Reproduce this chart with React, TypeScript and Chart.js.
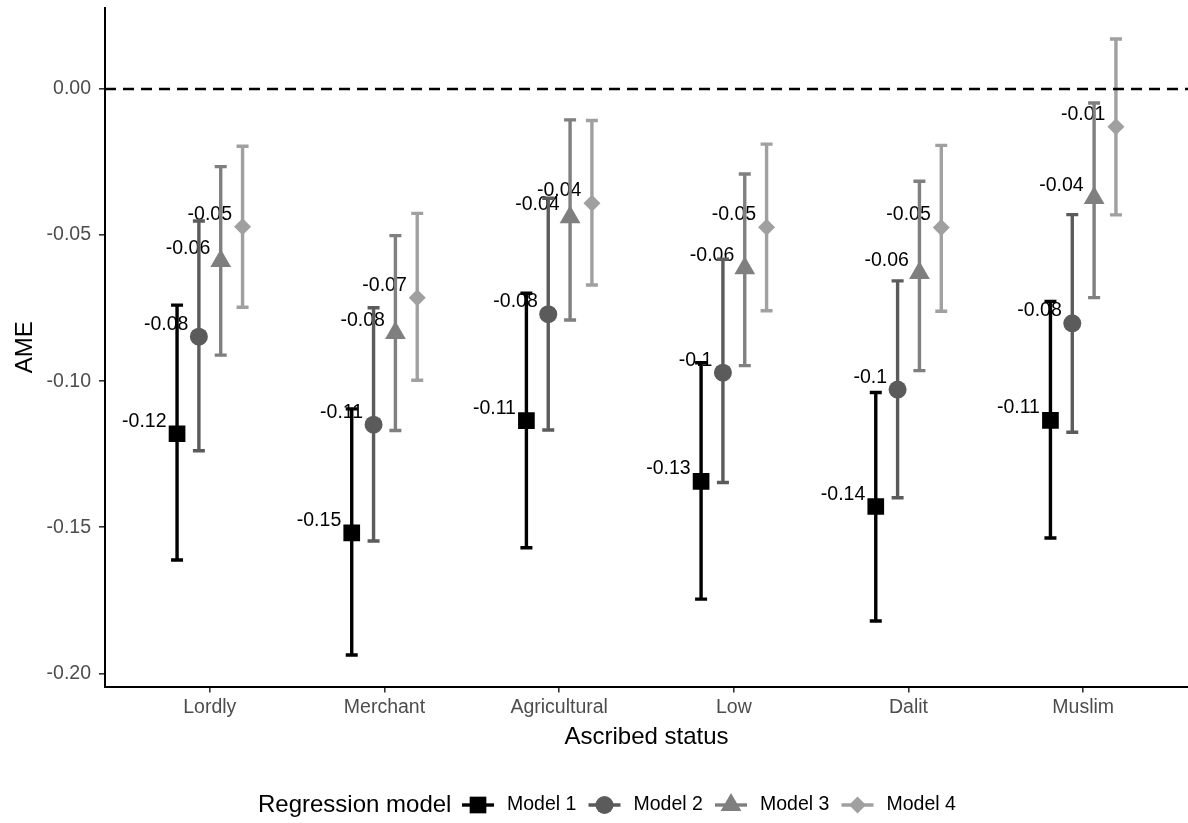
import React, { useEffect, useRef } from "react";
import { Chart, registerables } from "chart.js";

Chart.register(...registerables);

// ---------- data ----------
const CATEGORIES = ["Lordly", "Merchant", "Agricultural", "Low", "Dalit", "Muslim"];
const MODELS = ["Model 1", "Model 2", "Model 3", "Model 4"];

const M1_EST = [-0.118, -0.1519, -0.1135, -0.1343, -0.1429, -0.1134];
const M1_LO = [-0.1612, -0.1937, -0.157, -0.1746, -0.1821, -0.1537];
const M1_HI = [-0.074, -0.1095, -0.0699, -0.0937, -0.1039, -0.0727];

const M2_EST = [-0.0848, -0.1149, -0.0771, -0.0971, -0.1029, -0.0802];
const M2_LO = [-0.1238, -0.1547, -0.1167, -0.1347, -0.1399, -0.1175];
const M2_HI = [-0.0452, -0.0749, -0.0374, -0.0583, -0.0657, -0.043];

const M3_EST = [-0.0589, -0.0835, -0.0439, -0.0614, -0.063, -0.0373];
const M3_LO = [-0.0911, -0.1169, -0.0791, -0.0947, -0.0964, -0.0714];
const M3_HI = [-0.0266, -0.0502, -0.0106, -0.0291, -0.0316, -0.0048];

const M4_EST = [-0.0472, -0.0715, -0.0391, -0.0473, -0.0474, -0.0129];
const M4_LO = [-0.0747, -0.0997, -0.0671, -0.0759, -0.0761, -0.0431];
const M4_HI = [-0.0196, -0.0426, -0.0108, -0.0189, -0.0193, 0.0171];

const Y_TICKS = [-0.2, -0.15, -0.1, -0.05, 0];
const Y_TICK_LABELS = ["-0.20", "-0.15", "-0.10", "-0.05", "0.00"];
const REF_LINE = 0;

const X_TITLE = "Ascribed status";
const Y_TITLE = "AME";
const LEGEND_TITLE = "Regression model";

// ---------- styles ----------
const COLORS = ["#000000", "#5b5b5b", "#7f7f7f", "#a0a0a0"];
const SHAPES = ["rect", "circle", "triangle", "rectRot"];
const RADII = [11.8, 9, 12, 8.5];
const DODGE = [-0.1875, -0.0625, 0.0625, 0.1875];
const X_MIN = 0.4;
const X_MAX = 6.6;
const Y_MIN = -0.2045;
const Y_MAX = 0.0277;
const FONT = '"Liberation Sans", Arial, Helvetica, sans-serif';

const SERIES = [
  { est: M1_EST, lo: M1_LO, hi: M1_HI },
  { est: M2_EST, lo: M2_LO, hi: M2_HI },
  { est: M3_EST, lo: M3_LO, hi: M3_HI },
  { est: M4_EST, lo: M4_LO, hi: M4_HI },
];

const fmt = (v: number) => String(Math.round(v * 100) / 100);

function drawShape(ctx: CanvasRenderingContext2D, shape: string, x: number, y: number, r: number) {
  ctx.beginPath();
  if (shape === "rect") {
    const s = Math.SQRT1_2 * r;
    ctx.rect(x - s, y - s, 2 * s, 2 * s);
  } else if (shape === "circle") {
    ctx.arc(x, y, r, 0, Math.PI * 2);
  } else if (shape === "triangle") {
    for (let i = 0; i < 3; i++) {
      const a = (i * 2 * Math.PI) / 3;
      const px = x + Math.sin(a) * r;
      const py = y - Math.cos(a) * r;
      if (i === 0) ctx.moveTo(px, py);
      else ctx.lineTo(px, py);
    }
    ctx.closePath();
  } else {
    ctx.moveTo(x - r, y);
    ctx.lineTo(x, y - r);
    ctx.lineTo(x + r, y);
    ctx.lineTo(x, y + r);
    ctx.closePath();
  }
  ctx.fill();
}

const barsPlugin = {
  id: "barsAndLabels",
  beforeDatasetsDraw(chart: any) {
    const { ctx } = chart;
    const xs = chart.scales.x;
    const ys = chart.scales.y;
    ctx.save();
    // value labels
    ctx.font = `19.5px ${FONT}`;
    ctx.fillStyle = "#000";
    ctx.textAlign = "right";
    ctx.textBaseline = "alphabetic";
    SERIES.forEach((s, k) => {
      s.est.forEach((v, i) => {
        const px = xs.getPixelForValue(i + 1 + DODGE[k]);
        const py = ys.getPixelForValue(v);
        ctx.fillText(fmt(v), px - 10.5, py - 7);
      });
    });
    // error bars
    ctx.lineWidth = 3.4;
    ctx.lineCap = "butt";
    SERIES.forEach((s, k) => {
      ctx.strokeStyle = COLORS[k];
      s.est.forEach((_, i) => {
        const px = xs.getPixelForValue(i + 1 + DODGE[k]);
        const pl = ys.getPixelForValue(s.lo[i]);
        const ph = ys.getPixelForValue(s.hi[i]);
        ctx.beginPath();
        ctx.moveTo(px, pl);
        ctx.lineTo(px, ph);
        ctx.moveTo(px - 6, pl);
        ctx.lineTo(px + 6, pl);
        ctx.moveTo(px - 6, ph);
        ctx.lineTo(px + 6, ph);
        ctx.stroke();
      });
    });
    ctx.restore();
  },
  afterDraw(chart: any) {
    const { ctx, chartArea } = chart;
    ctx.save();
    ctx.fillStyle = "#000";
    // axis titles
    ctx.font = `24px ${FONT}`;
    ctx.textAlign = "center";
    ctx.textBaseline = "middle";
    ctx.fillText(X_TITLE, (chartArea.left + chartArea.right) / 2, 737);
    ctx.save();
    ctx.translate(25, (chartArea.top + chartArea.bottom) / 2);
    ctx.rotate(-Math.PI / 2);
    ctx.fillText(Y_TITLE, 0, 0);
    ctx.restore();
    // legend
    const ly = 805;
    ctx.textAlign = "left";
    ctx.font = `24px ${FONT}`;
    ctx.fillText(LEGEND_TITLE, 258, ly);
    ctx.font = `19.5px ${FONT}`;
    MODELS.forEach((m, k) => {
      const cx = 478 + k * 126.5;
      ctx.strokeStyle = COLORS[k];
      ctx.fillStyle = COLORS[k];
      ctx.lineWidth = 3.4;
      ctx.beginPath();
      ctx.moveTo(cx - 16, ly);
      ctx.lineTo(cx + 16, ly);
      ctx.stroke();
      drawShape(ctx, SHAPES[k], cx, ly, RADII[k]);
      ctx.fillStyle = "#000";
      ctx.fillText(m, cx + 29, ly);
    });
    ctx.restore();
  },
};

const zeroPad = (s: any) => {
  s.paddingTop = 0;
  s.paddingBottom = 0;
  s.paddingLeft = 0;
  s.paddingRight = 0;
};

export default function App() {
  const ref = useRef<HTMLCanvasElement | null>(null);
  useEffect(() => {
    document.body.style.margin = "0";
    const canvas = ref.current;
    if (!canvas) return;
    const pointSets = SERIES.map((s, k) => ({
      type: "scatter" as const,
      label: MODELS[k],
      data: s.est.map((v, i) => ({ x: i + 1 + DODGE[k], y: v })),
      pointStyle: SHAPES[k],
      pointRadius: RADII[k],
      backgroundColor: COLORS[k],
      borderColor: COLORS[k],
      borderWidth: 0,
      order: k,
    }));
    const chart = new Chart(canvas, {
      type: "scatter",
      data: {
        datasets: [
          ...pointSets,
          {
            type: "scatter" as const,
            label: "ref",
            data: [
              { x: X_MIN, y: REF_LINE },
              { x: X_MAX, y: REF_LINE },
            ],
            showLine: true,
            borderColor: "#000",
            borderWidth: 2.4,
            borderDash: [11, 7],
            pointRadius: 0,
            order: -1,
          } as any,
        ],
      },
      options: {
        animation: false,
        responsive: false,
        devicePixelRatio: 1,
        events: [],
        layout: { autoPadding: false, padding: { top: 8, left: 0, right: 0, bottom: 0 } },
        plugins: { legend: { display: false }, tooltip: { enabled: false } },
        scales: {
          x: {
            type: "linear",
            min: X_MIN,
            max: X_MAX,
            afterBuildTicks: (s: any) => {
              s.ticks = CATEGORIES.map((_, i) => ({ value: i + 1 }));
            },
            afterFit: (s: any) => {
              s.height = 136.5;
              zeroPad(s);
            },
            ticks: {
              callback: (_v: any, i: number) => CATEGORIES[i],
              color: "#4d4d4d",
              font: { family: FONT, size: 19.5 },
              padding: 3,
              maxRotation: 0,
              autoSkip: false,
            },
            grid: {
              display: true,
              drawOnChartArea: false,
              drawTicks: true,
              tickLength: 6,
              color: "#333",
              lineWidth: 1.6,
            },
            border: { display: true, color: "#000", width: 2 },
          },
          y: {
            type: "linear",
            min: Y_MIN,
            max: Y_MAX,
            afterBuildTicks: (s: any) => {
              s.ticks = Y_TICKS.map((v) => ({ value: v }));
            },
            afterFit: (s: any) => {
              s.width = 105;
              zeroPad(s);
            },
            ticks: {
              callback: (_v: any, i: number) => Y_TICK_LABELS[i],
              color: "#4d4d4d",
              font: { family: FONT, size: 19.5 },
              padding: 8,
              autoSkip: false,
            },
            grid: {
              display: true,
              drawOnChartArea: false,
              drawTicks: true,
              tickLength: 6,
              color: "#333",
              lineWidth: 1.6,
            },
            border: { display: true, color: "#000", width: 2 },
          },
        },
      },
      plugins: [barsPlugin],
    } as any);
    return () => chart.destroy();
  }, []);
  return <canvas ref={ref} width={1188} height={823} style={{ display: "block" }} />;
}
